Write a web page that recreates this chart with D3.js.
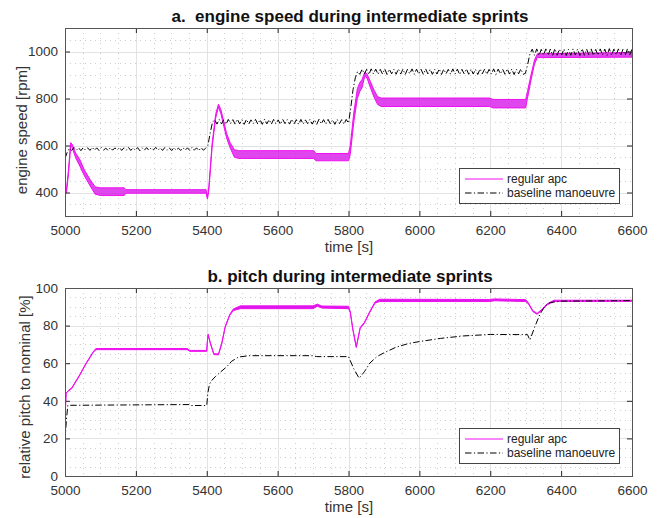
<!DOCTYPE html>
<html>
<head>
<meta charset="utf-8">
<script src="https://cdn.jsdelivr.net/npm/d3@7"></script>
<style>
  body { margin: 0; background: #fff; }
  svg { font-family: "Liberation Sans", Arial, Helvetica, sans-serif; }
  .title { white-space: pre; }
</style>
</head>
<body>
<svg id="chart" width="659" height="518"></svg>
<script>
// ---- data ----------------------------------------------------------------
const timeDomain = [5000, 6600];
const timeTicks = [5000, 5200, 5400, 5600, 5800, 6000, 6200, 6400, 6600];
const rpmTicks = [400, 600, 800, 1000];
const pitchTicks = [0, 20, 40, 60, 80, 100];
const seriesNames = ["regular apc", "baseline manoeuvre"];
const panelTitles = ["a.  engine speed during intermediate sprints", "b. pitch during intermediate sprints"];

// regular apc engine speed: [time s, band low rpm, band high rpm]
const apcRpm = [
  [5000, 392, 405], [5004, 398, 412], [5010, 480, 500], [5016, 598, 612], [5020, 592, 606],
  [5030, 548, 568], [5042, 512, 540], [5055, 470, 495], [5071, 428, 455], [5085, 393, 424],
  [5100, 387, 420], [5167, 387, 420], [5172, 397, 412], [5398, 397, 412], [5402, 372, 380],
  [5406, 412, 426], [5415, 590, 606], [5425, 715, 732], [5433, 764, 776], [5440, 735, 752],
  [5456, 632, 652], [5466, 590, 612], [5478, 550, 582], [5490, 545, 578], [5702, 545, 578],
  [5708, 535, 566], [5800, 535, 566], [5805, 562, 600], [5815, 700, 740], [5825, 800, 842],
  [5832, 830, 868], [5838, 845, 880], [5846, 895, 912], [5852, 888, 905], [5862, 845, 872],
  [5872, 806, 836], [5882, 775, 808], [5892, 766, 802], [6198, 766, 802], [6208, 760, 796],
  [6300, 760, 796], [6305, 800, 830], [6315, 878, 900], [6325, 948, 965], [6333, 974, 990],
  [6600, 976, 996]
];

// baseline engine speed [rpm], logged every 6.4 s from 5000 s
const baselineRpmStart = 5000;
const baselineRpmStep = 6.4;
const baselineRpm = [
  545, 572, 588,
  579, 591, 580, 590, 578, 591, 581, 590, 579, 592,
  580, 590, 579, 591, 580, 589, 578, 591, 580, 590,
  581, 591, 579, 590, 580, 592, 579, 590, 580, 591,
  578, 590, 580, 591, 579, 590, 581, 592, 580, 590,
  579, 591, 580, 590, 578, 591, 580, 589, 579, 591,
  580, 590, 579, 592, 580, 590, 578, 591, 580, 588,
  600, 652, 698,
  710, 691, 711, 692, 709, 690, 711, 693, 710, 691,
  712, 692, 710, 690, 711, 691, 709, 693, 711, 691,
  710, 690, 712, 692, 710, 691, 711, 692, 709, 690,
  711, 693, 710, 691, 712, 692, 710, 690, 711, 691,
  709, 693, 711, 691, 710, 690, 712, 692, 710, 691,
  711, 692, 709, 690, 711, 693, 710, 691, 711, 695,
  760, 838, 888, 915,
  903, 925, 904, 924, 902, 926, 905, 925, 903, 924,
  904, 926, 902, 925, 905, 924, 903, 926, 904, 925,
  902, 924, 905, 926, 903, 925, 904, 924, 902, 926,
  905, 925, 903, 924, 904, 926, 902, 925, 905, 924,
  903, 926, 904, 925, 902, 924, 905, 926, 903, 925,
  904, 924, 902, 926, 905, 925, 903, 924, 904, 926,
  902, 925, 905, 924, 903, 926, 904, 925, 902, 924,
  905, 926, 903, 907,
  945, 990,
  1010, 984, 1011, 983, 1009, 985, 1011, 984, 1010, 983,
  1012, 984, 1010, 985, 1011, 983, 1009, 984, 1011, 985,
  1010, 983, 1012, 984, 1010, 985, 1011, 983, 1009, 984,
  1011, 985, 1010, 983, 1012, 984, 1010, 985, 1011, 983,
  1009, 984, 1011, 985, 1010
];

// regular apc pitch: [time s, band low %, band high %]
const apcPitch = [
  [5000, 30.5, 30.5], [5003, 44, 44], [5010, 45.2, 45.6], [5019, 46.5, 46.9], [5040, 53, 53.4],
  [5060, 59.8, 60.2], [5080, 65.8, 66.2], [5087, 67.2, 67.8], [5345, 67.2, 67.8], [5352, 66.3, 66.8],
  [5400, 66.3, 66.8], [5402, 72, 72.4], [5404, 75, 75.5], [5410, 70.5, 71], [5420, 64.6, 65.1],
  [5433, 64.4, 64.9], [5442, 70, 70.5], [5452, 79, 79.5], [5465, 85.5, 86], [5475, 88, 88.8],
  [5495, 89, 90.5], [5700, 89, 90.5], [5712, 90.3, 91.4], [5725, 89.3, 90.4], [5800, 89, 90.3],
  [5805, 87, 87.5], [5812, 78, 78.5], [5822, 68.3, 68.8], [5828, 74, 74.5], [5833, 78.5, 79],
  [5845, 81.3, 81.8], [5860, 87, 87.5], [5875, 92, 92.6], [5888, 92.8, 94], [6198, 92.8, 93.9],
  [6212, 93.2, 94.2], [6300, 92.8, 93.8], [6308, 91.5, 92], [6320, 87.5, 88], [6332, 86, 86.5],
  [6345, 88, 88.5], [6360, 91, 91.5], [6380, 92.8, 93.5], [6600, 92.9, 93.5]
];

// baseline pitch: [time s, %]
const baselinePitch = [
  [5000, 19], [5004, 30], [5008, 37.6], [5350, 38], [5355, 37.5], [5400, 37.5], [5403, 44],
  [5408, 49], [5415, 51], [5425, 53], [5440, 55.5], [5456, 58], [5470, 61], [5490, 63.3],
  [5520, 64], [5700, 64], [5710, 63.5], [5800, 63.5], [5815, 57], [5830, 52], [5845, 55.5],
  [5860, 60], [5880, 63.5], [5900, 65.5], [5934, 68.5], [5970, 70.5], [6000, 71.5], [6060, 73.2],
  [6124, 74.5], [6200, 75.3], [6305, 75.2], [6312, 72.3], [6325, 79], [6340, 86], [6355, 90.5],
  [6370, 92.3], [6400, 93], [6600, 93.3]
];

// ---- drawing -------------------------------------------------------------
const svg = d3.select("#chart");
const apcColor = "#f010f0";
const baseColor = "#000";
const axisColor = "#262626";
const textColor = "#333";
const dashDot = "6.5,2.4,1.2,2.4";

const x = d3.scaleLinear().domain(timeDomain).range([65, 632]);

function panel(opts) {
  const y = d3.scaleLinear().domain(opts.yDomain).range([opts.bottom, opts.top]);
  const g = svg.append("g");
  const [x0, x1] = x.range();
  const clipId = "clip" + opts.id;
  svg.append("clipPath").attr("id", clipId)
    .append("rect").attr("x", x0).attr("y", opts.top)
    .attr("width", x1 - x0).attr("height", opts.bottom - opts.top);

  // minor grid
  const xMinor = d3.range(timeDomain[0], timeDomain[1] + 1, 50).filter(v => !timeTicks.includes(v));
  const yMinor = d3.range(opts.yDomain[0], opts.yDomain[1] + 0.001, opts.yMinorStep)
    .filter(v => !opts.yTicks.includes(v));
  const grid = g.append("g");
  grid.selectAll(".xm").data(xMinor).join("line")
    .attr("x1", d => Math.round(x(d)) + 0.5).attr("x2", d => Math.round(x(d)) + 0.5)
    .attr("y1", opts.top).attr("y2", opts.bottom)
    .attr("stroke", "#cfcfcf").attr("stroke-dasharray", "1,4");
  grid.selectAll(".ym").data(yMinor).join("line")
    .attr("y1", d => Math.round(y(d)) + 0.5).attr("y2", d => Math.round(y(d)) + 0.5)
    .attr("x1", x0).attr("x2", x1)
    .attr("stroke", "#cfcfcf").attr("stroke-dasharray", "1,4");
  // major grid
  grid.selectAll(".xM").data(timeTicks).join("line")
    .attr("x1", d => Math.round(x(d)) + 0.5).attr("x2", d => Math.round(x(d)) + 0.5)
    .attr("y1", opts.top).attr("y2", opts.bottom)
    .attr("stroke", "#e2e2e2");
  grid.selectAll(".yM").data(opts.yTicks).join("line")
    .attr("y1", d => Math.round(y(d)) + 0.5).attr("y2", d => Math.round(y(d)) + 0.5)
    .attr("x1", x0).attr("x2", x1)
    .attr("stroke", "#e2e2e2");

  // series: apc as its oscillation band, baseline dash-dot on top
  const plot = g.append("g").attr("clip-path", `url(#${clipId})`);
  const band = d3.area().x(d => x(d[0])).y0(d => y(d[1])).y1(d => y(d[2]));
  plot.append("path").datum(opts.apc).attr("d", band)
    .style("fill", "#d818ea").style("fill-opacity", opts.bandOpacity)
    .style("stroke", apcColor).style("stroke-width", 1).style("stroke-linejoin", "round");
  const baseLine = d3.line().x(opts.baseX).y(d => y(opts.baseY(d)));
  plot.append("path").datum(opts.base).attr("d", baseLine)
    .style("fill", "none").style("stroke", baseColor).style("stroke-width", 1)
    .style("stroke-dasharray", dashDot);

  // axes: ticks inside on all four sides
  const tl = 5;
  const axB = d3.axisBottom(x).tickValues(timeTicks).tickSize(-tl).tickPadding(9).tickFormat(d3.format("d"));
  const axT = d3.axisTop(x).tickValues(timeTicks).tickSize(-tl).tickFormat("");
  const axL = d3.axisLeft(y).tickValues(opts.yTicks).tickSize(-tl).tickPadding(7).tickFormat(d3.format("d"));
  const axR = d3.axisRight(y).tickValues(opts.yTicks).tickSize(-tl).tickFormat("");
  const axes = [
    g.append("g").attr("transform", `translate(0,${opts.bottom})`).call(axB),
    g.append("g").attr("transform", `translate(0,${opts.top})`).call(axT),
    g.append("g").attr("transform", `translate(${x0},0)`).call(axL),
    g.append("g").attr("transform", `translate(${x1},0)`).call(axR)
  ];
  axes.forEach(a => {
    a.select(".domain").remove();
    a.selectAll("line").attr("stroke", axisColor);
    a.selectAll("text").attr("fill", textColor).attr("font-size", 13.5);
  });
  g.append("rect").attr("x", x0 + 0.5).attr("y", opts.top + 0.5)
    .attr("width", x1 - x0).attr("height", opts.bottom - opts.top)
    .attr("fill", "none").attr("stroke", "#555").attr("stroke-width", 1);

  // labels
  g.append("text").attr("class", "title")
    .attr("x", 350).attr("y", opts.top - 6).attr("text-anchor", "middle")
    .attr("font-size", 17).attr("font-weight", "bold").attr("fill", "#111")
    .text(opts.title);
  g.append("text").attr("x", 349).attr("y", opts.bottom + 36).attr("text-anchor", "middle")
    .attr("font-size", 15).attr("fill", textColor).text("time [s]");
  g.append("text")
    .attr("transform", `translate(${opts.yLabelX},${opts.yLabelY}) rotate(-90)`)
    .attr("text-anchor", "middle").attr("font-size", 15).attr("fill", textColor)
    .text(opts.yLabel);

  // legend
  const lg = g.append("g").attr("transform", `translate(459,${opts.legendTop})`);
  lg.append("rect").attr("x", 0.5).attr("y", 0.5).attr("width", 160).attr("height", 35)
    .attr("fill", "#fff").attr("stroke", "#444").attr("stroke-width", 1);
  const entries = [{ name: seriesNames[0], color: apcColor, dash: "none" },
                   { name: seriesNames[1], color: baseColor, dash: dashDot }];
  entries.forEach((e, i) => {
    const cy = 11 + i * 14;
    lg.append("path").attr("d", `M6,${cy}H44`)
      .style("fill", "none").style("stroke", e.color).style("stroke-width", 1.2)
      .style("stroke-dasharray", e.dash);
    lg.append("text").attr("x", 48).attr("y", cy).attr("dy", "0.35em")
      .attr("font-size", 12).attr("fill", "#222").text(e.name);
  });
}

panel({
  id: "a", top: 28, bottom: 216, yDomain: [300, 1100], yTicks: rpmTicks, yMinorStep: 50,
  apc: apcRpm, bandOpacity: 0.8,
  base: baselineRpm,
  baseX: (d, i) => x(baselineRpmStart + i * baselineRpmStep),
  baseY: d => d,
  title: panelTitles[0], yLabel: "engine speed [rpm]", yLabelX: 27, yLabelY: 130, legendTop: 168
});

panel({
  id: "b", top: 288, bottom: 476, yDomain: [0, 100], yTicks: pitchTicks, yMinorStep: 5,
  apc: apcPitch, bandOpacity: 1,
  base: baselinePitch,
  baseX: d => x(d[0]),
  baseY: d => d[1],
  title: panelTitles[1], yLabel: "relative pitch to nominal [%]", yLabelX: 30, yLabelY: 387, legendTop: 428
});
</script>
</body>
</html>
